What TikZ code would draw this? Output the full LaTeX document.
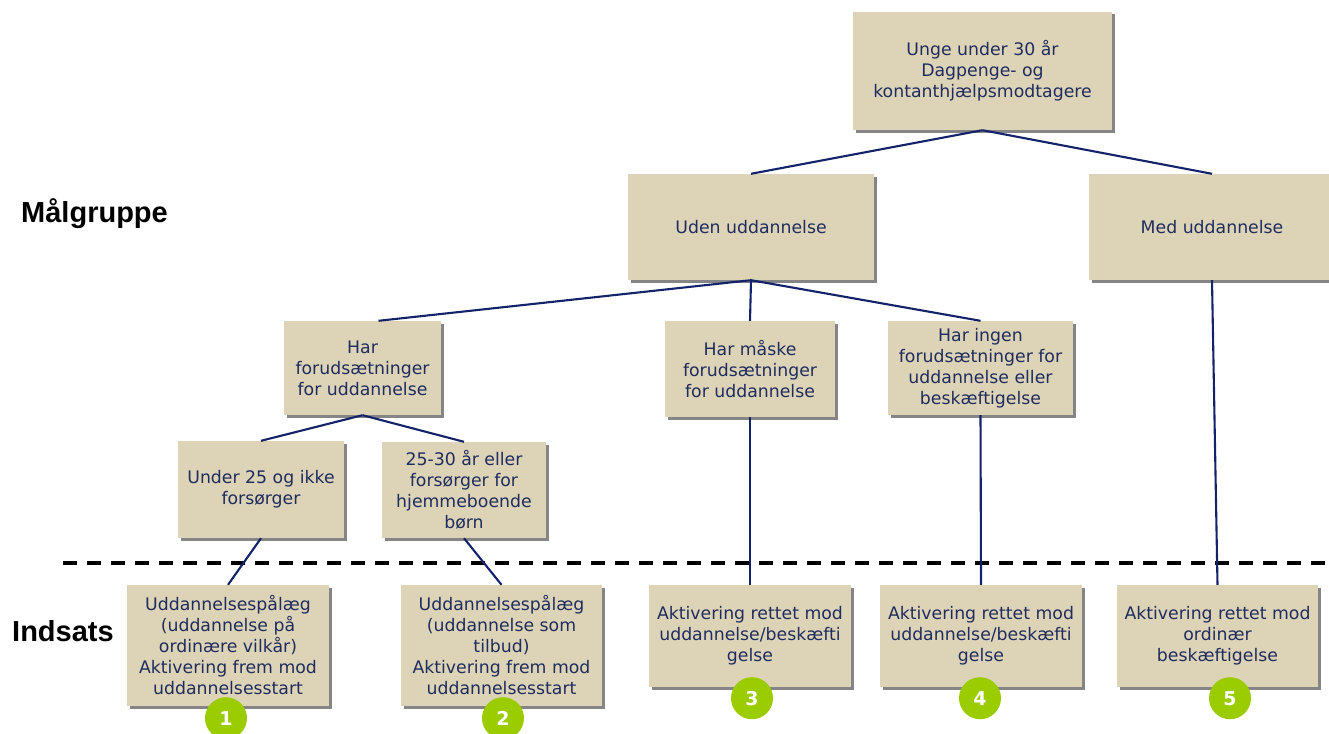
\documentclass[tikz,border=0pt]{standalone}
\usepackage{fontspec}
\setmainfont{DejaVu Sans}
\newfontfamily\labelfont{Liberation Sans}
\usetikzlibrary{shadows,calc}
\definecolor{boxfill}{HTML}{DDD3B7}
\definecolor{navy}{HTML}{14226A}
\definecolor{txtcol}{HTML}{1F2D5E}
\definecolor{badgegreen}{HTML}{9ACC00}
\definecolor{shadowgray}{HTML}{858585}
\tikzset{
  box/.style={fill=boxfill, inner sep=0pt, align=center, text=txtcol,
    font=\fontsize{17.3}{21}\selectfont,
    drop shadow={shadow xshift=2.5pt, shadow yshift=-2.5pt, fill=shadowgray, opacity=1}},
  conn/.style={draw=navy, line width=2.1pt},
  badge/.style={circle, fill=badgegreen, minimum size=42pt, inner sep=0pt, text=white,
    font=\fontsize{19}{19}\selectfont\bfseries},
  sectlabel/.style={font=\labelfont\fontsize{29}{29}\selectfont\bfseries, anchor=base west, inner sep=0pt},
  divider/.style={line width=4pt, dash pattern=on 14pt off 10pt, draw=black}
}
\begin{document}
\begin{tikzpicture}[x=1pt,y=-1pt]
\useasboundingbox (0,0) rectangle (1329,733);
% labels
\node[sectlabel] (malg) at (21,222) {Målgruppe};
\node[sectlabel] (inds) at (12,641) {Indsats};
% divider
\coordinate (dashL) at (63,563);
\coordinate (dashR) at (1326,563);
\draw[divider] (dashL) -- (dashR);
% boxes
\node[box, minimum width=259pt, minimum height=118pt] (top) at (982.5,71) {Unge under 30 år\\Dagpenge- og\\kontanthjælpsmodtagere};
\node[box, minimum width=246pt, minimum height=106pt] (uden) at (751,227) {Uden uddannelse};
\node[box, minimum width=246pt, minimum height=106pt] (med) at (1212,227) {Med uddannelse};
\node[box, minimum width=157pt, minimum height=94pt] (harf) at (362.5,368) {Har\\forudsætninger\\for uddannelse};
\node[box, minimum width=170pt, minimum height=96pt] (harm) at (750,369) {Har måske\\forudsætninger\\for uddannelse};
\node[box, minimum width=185pt, minimum height=94pt] (hari) at (980.5,368) {Har ingen\\forudsætninger for\\uddannelse eller\\beskæftigelse};
\node[box, minimum width=166pt, minimum height=97pt] (u25) at (261,489.5) {Under 25 og ikke\\forsørger};
\node[box, minimum width=164pt, minimum height=96pt] (b2530) at (464,490) {25-30 år eller\\forsørger for\\hjemmeboende\\børn};
\node[box, minimum width=202pt, minimum height=121pt] (b1) at (228,645.5) {Uddannelsespålæg\\(uddannelse på\\ordinære vilkår)\\Aktivering frem mod\\uddannelsesstart};
\node[box, minimum width=201pt, minimum height=121pt] (b2) at (501.5,645.5) {Uddannelsespålæg\\(uddannelse som\\tilbud)\\Aktivering frem mod\\uddannelsesstart};
\node[box, minimum width=202pt, minimum height=102pt] (b3) at (750,636) {Aktivering rettet mod\\uddannelse/beskæfti\\gelse};
\node[box, minimum width=202pt, minimum height=102pt] (b4) at (981,636) {Aktivering rettet mod\\uddannelse/beskæfti\\gelse};
\node[box, minimum width=201pt, minimum height=102pt] (b5) at (1217.5,636) {Aktivering rettet mod\\ordinær\\beskæftigelse};
% connectors
\draw[conn] (top.south) -- (uden.north);
\draw[conn] (top.south) -- (med.north);
\draw[conn] (uden.south) -- ([xshift=16pt]harf.north);
\draw[conn] (uden.south) -- (harm.north);
\draw[conn] (uden.south) -- (hari.north);
\draw[conn] (harf.south) -- (u25.north);
\draw[conn] (harf.south) -- (b2530.north);
\draw[conn] (u25.south) -- (b1.north);
\draw[conn] (b2530.south) -- (b2.north);
\draw[conn] (harm.south) -- (b3.north);
\draw[conn] (hari.south) -- (b4.north);
\draw[conn] (med.south) -- (b5.north);
% badges
\node[badge] (c1) at ([xshift=-2pt,yshift=-12pt]b1.south) {1};
\node[badge] (c2) at ([xshift=1.5pt,yshift=-12pt]b2.south) {2};
\node[badge] (c3) at ([xshift=2pt,yshift=-11pt]b3.south) {3};
\node[badge] (c4) at ([xshift=-1pt,yshift=-11pt]b4.south) {4};
\node[badge] (c5) at ([xshift=12.5pt,yshift=-11pt]b5.south) {5};
\end{tikzpicture}
\end{document}
